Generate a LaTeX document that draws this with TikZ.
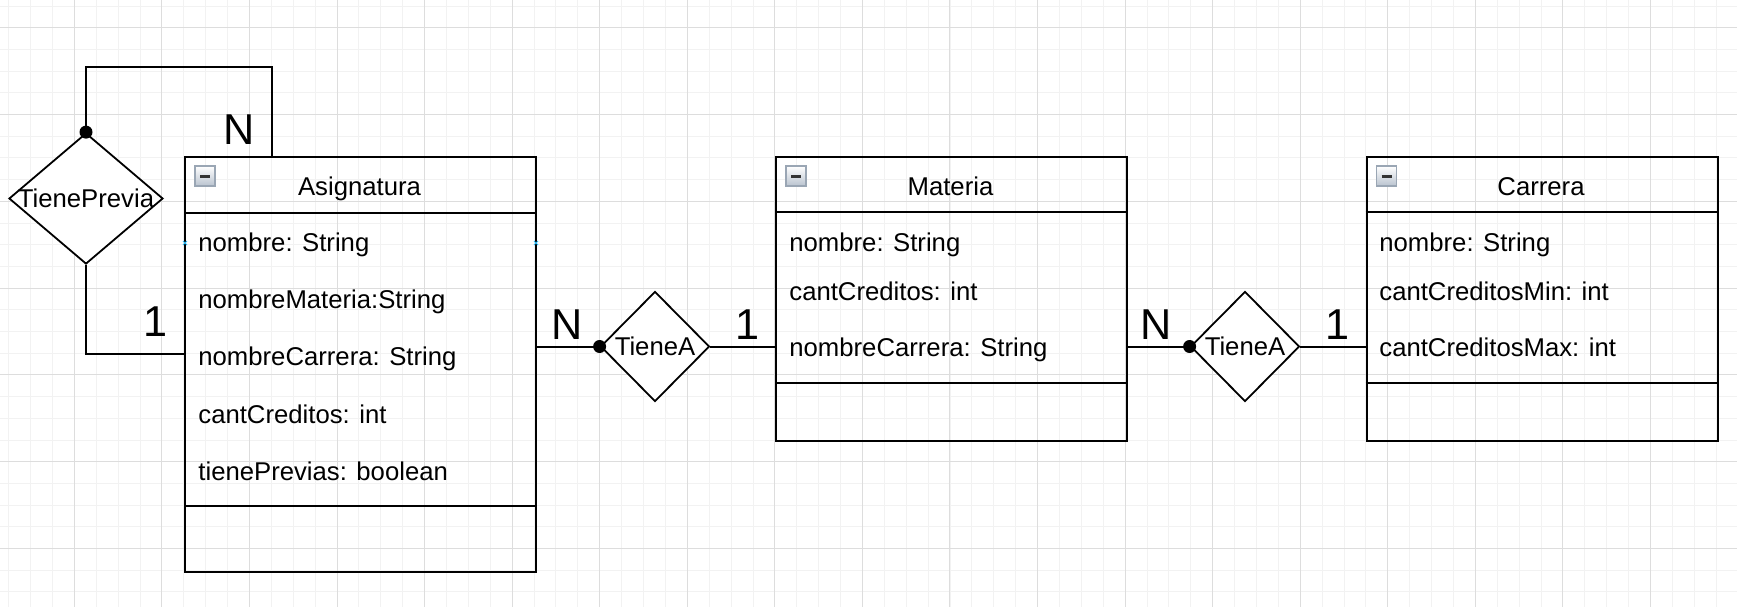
\documentclass[tikz,border=0pt]{standalone}
\usepackage{fontspec}
\setmainfont{Liberation Sans}
\usetikzlibrary{shapes.geometric, positioning}

\definecolor{gridminor}{HTML}{F2F2F2}
\definecolor{gridmajor}{HTML}{DDDDDD}
\definecolor{iconedge}{HTML}{9AA6B4}
\definecolor{iconfill}{HTML}{B9C3CF}
\definecolor{pointblue}{HTML}{29B6F2}

\newcommand{\attrfont}{\fontsize{12.85}{15}\selectfont}
\newcommand{\cardfont}{\fontsize{21.6}{24}\selectfont}
% collapse icon in the corner of a class header
\newcommand{\collapseicon}[1]{%
  \begin{scope}[shift={(#1)}]
    \draw[draw=iconedge, line width=0.6pt, top color=white, bottom color=iconfill] (11,10) rectangle (31,30);
    \draw[line width=1.5pt, black!80] (16,20) -- (26,20);
  \end{scope}}
\newcommand{\pointmark}[1]{%
  \draw[pointblue, line width=0.5pt] ($(#1)+(-2,-2)$) -- ($(#1)+(2,2)$) ($(#1)+(-2,2)$) -- ($(#1)+(2,-2)$);}

\tikzset{
  entity/.style={draw, line width=1pt, rectangle, minimum width=175.5pt, inner sep=0pt, anchor=north west},
  rel/.style={draw, diamond, fill=white, line width=0.9pt, inner sep=0pt, font=\attrfont},
  attr/.style={anchor=base west, inner sep=0pt, font=\attrfont},
  title/.style={anchor=base, inner sep=0pt, font=\attrfont},
  card/.style={anchor=base, inner sep=0pt, font=\cardfont},
  link/.style={line width=1pt},
  hub/.style={circle, fill=black, inner sep=0pt, minimum size=6.5pt},
}
\usetikzlibrary{calc}

\begin{document}
\begin{tikzpicture}[x=0.5pt, y=-0.5pt]
    \useasboundingbox (0,0) rectangle (1737,607);
    % grid
    \foreach \i in {0,...,79}
      \draw[gridminor, line width=0.5pt] (8.74+21.89*\i,0) -- (8.74+21.89*\i,607);
    \foreach \i in {0,...,27}
      \draw[gridminor, line width=0.5pt] (0,6+21.7*\i) -- (1737,6+21.7*\i);
    \foreach \i in {0,...,19}
      \draw[gridmajor, line width=0.5pt] (74.4+87.55*\i,0) -- (74.4+87.55*\i,607);
    \foreach \i in {0,...,6}
      \draw[gridmajor, line width=0.5pt] (0,27.7+86.8*\i) -- (1737,27.7+86.8*\i);

    % classes
    \node[entity, minimum height=207.5pt] (asig) at (184,156) {};
    \node[entity, minimum height=142pt] (materia) at (775,156) {};
    \node[entity, minimum height=142pt] (carrera) at (1365.5,156) {};
    \draw[line width=1pt] (184,212.5) -- (535,212.5) (184,505.5) -- (535,505.5);
    \draw[line width=1pt] (775,212) -- (1126,212) (775,383) -- (1126,383);
    \draw[line width=1pt] (1365.5,212) -- (1716.5,212) (1365.5,383) -- (1716.5,383);
    \collapseicon{184,156}
    \collapseicon{775,156}
    \collapseicon{1365.5,156}

    \node[title] at (359.5,195) {Asignatura};
    \node[attr] at (198,251.7) {nombre: String};
    \node[attr] at (198,308.8) {nombreMateria:String};
    \node[attr] at (198,365.9) {nombreCarrera: String};
    \node[attr] at (198,423) {cantCreditos: int};
    \node[attr] at (198,480) {tienePrevias: boolean};
    \pointmark{185,243}
    \pointmark{536,243}

    \node[title] at (950.5,195) {Materia};
    \node[attr] at (789,251.7) {nombre: String};
    \node[attr] at (789,300) {cantCreditos: int};
    \node[attr] at (789,356.7) {nombreCarrera: String};

    \node[title] at (1541,195) {Carrera};
    \node[attr] at (1379,251.7) {nombre: String};
    \node[attr] at (1379,300) {cantCreditosMin: int};
    \node[attr] at (1379,356.7) {cantCreditosMax: int};

    % relationships
    \node[rel, minimum width=77pt, minimum height=65.5pt, label={center:\attrfont TienePrevia}] (previa) at (86,198.5) {};
    \node[rel, minimum width=54.5pt, minimum height=55pt, label={center:\attrfont TieneA}] (tieneA) at (655,346.5) {};
    \node[rel, minimum width=54.5pt, minimum height=55pt, label={center:\attrfont TieneA}] (tieneB) at (1245,346.5) {};

    \coordinate (asigTop) at (272,156);
    \coordinate (asigLeft) at (184,354);
    \draw[link] (previa.north) -- ++(0,-65) -| (asigTop);
    \draw[link] (previa.south) |- (asigLeft);
    \draw[link] (asig.east |- tieneA) -- (tieneA.west);
    \draw[link] (tieneA.east) -- (materia.west |- tieneA);
    \draw[link] (materia.east |- tieneB) -- (tieneB.west);
    \draw[link] (tieneB.east) -- (carrera.west |- tieneB);
    \node[hub] at (previa.north) {};
    \node[hub] at (tieneA.west) {};
    \node[hub] at (tieneB.west) {};

    % cardinalities
    \node[card] at (239,144) {N};
    \node[card] at (156,336) {1};
    \node[card] at (567,339) {N};
    \node[card] at (748,339) {1};
    \node[card] at (1156,339) {N};
    \node[card] at (1338,339) {1};
  \end{tikzpicture}
\end{document}
